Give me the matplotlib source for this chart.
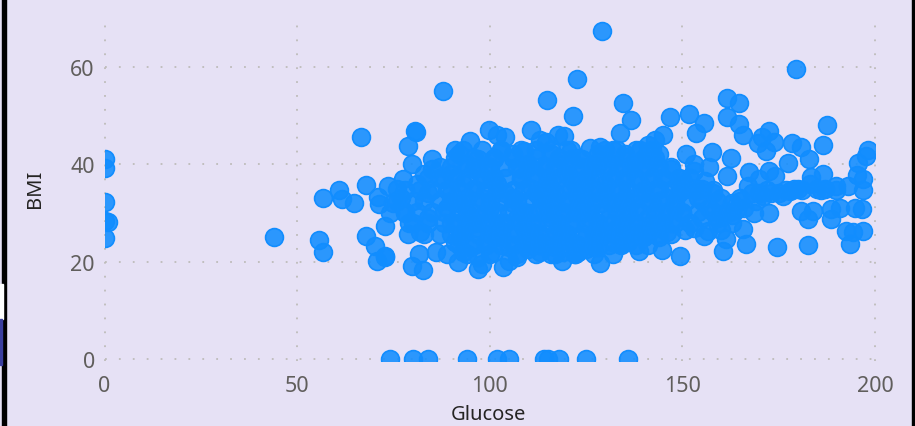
import matplotlib
matplotlib.use("Agg")
import matplotlib.pyplot as plt
from matplotlib.patches import Rectangle

# points on the zero lines
zero_glucose = [74, 80, 84, 94, 102, 105, 114, 115, 118, 125, 136]
zero_bmi = [0, 0, 0, 0, 0, 0, 0, 0, 0, 0, 0]
left_glucose = [0, 0, 0, 0, 1, 0, 44]
left_bmi = [41, 39.2, 32.2, 28.4, 28.2, 24.8, 25]

# left side of the cloud
low_glucose = [66.7, 80.7, 80.9, 78.8, 79.7, 56.8, 60.8, 61.7, 64.8, 67.8, 55.7, 56.8, 67.8, 70.8, 72.8, 72.8, 70.2, 72.8,
               71, 71.2, 73.6, 77.5, 79.7, 82.7, 81.7, 78.7, 75, 76, 74, 77, 79, 78, 81, 83, 84, 82, 85, 86, 87.8, 85, 84, 88]
low_bmi = [45.5, 46.8, 46.5, 43.8, 40.1, 33, 34.6, 32.8, 32.1, 35.7, 24.5, 21.9, 25.2, 20.2, 20.9, 21.2, 23.3, 27.4,
           33.2, 31.8, 35.6, 36.9, 19.1, 18.3, 21.5, 25.6, 32, 35, 30, 33, 28, 30, 36, 38, 34, 26, 41, 22, 55, 39, 29, 37]

# 90-110 block
mid_a_glucose = [91, 95, 92, 94, 97, 99.8, 102, 104, 91.7, 97, 103.4, 105, 98, 90, 93, 96, 99, 101, 103, 106, 108, 109,
                 90, 92, 94, 96, 98, 100, 102, 104, 106, 108, 90, 93, 95, 97, 99, 101, 103, 105, 107, 109,
                 91, 93, 95, 97, 99, 101, 103, 105, 107, 109, 89, 92, 94, 96, 100, 102, 106, 108]
mid_a_bmi = [43, 44.8, 42, 40, 41, 47, 46, 45.5, 19.9, 18.4, 18.9, 20.1, 19.5, 38, 36, 39, 37, 41, 43, 42, 39, 42.7,
             34, 32, 30, 35, 33, 31, 36, 34, 32, 37, 28, 26, 29, 27, 30, 25, 28, 26, 29, 27,
             24, 22, 23, 21, 24, 22, 25, 23, 21, 24, 31, 25, 33, 28, 38, 27, 33, 30]

# 110-130 block
mid_b_glucose = [110.6, 113, 114.8, 114.5, 117.6, 119.3, 122.6, 121.6, 118.7, 128.7, 128.6, 126, 130, 129.2, 112, 116, 120, 124, 128,
                 110, 112, 114, 116, 118, 120, 122, 124, 126, 128, 111, 113, 115, 117, 119, 121, 123, 125, 127, 129,
                 110, 112, 114, 116, 118, 120, 122, 124, 126, 128, 111, 113, 115, 117, 119, 121, 123, 125, 127, 129,
                 110, 113, 116, 119, 122, 125, 128, 112, 115, 118, 121, 124, 127, 130]
mid_b_bmi = [47, 45, 53.1, 44.5, 46, 45.8, 57.4, 49.8, 20.1, 19.8, 43.5, 43.4, 43, 67.3, 43, 42, 43, 41, 42,
             40, 38, 39, 37, 40, 38, 36, 39, 37, 40, 35, 33, 36, 34, 32, 35, 33, 36, 34, 32,
             30, 28, 31, 29, 27, 30, 28, 31, 29, 27, 26, 24, 25, 23, 26, 24, 22, 25, 23, 26,
             22.5, 22, 21.5, 22, 21.5, 22.5, 23, 34, 30, 28, 41, 30, 40, 36]

# 130-150 block
mid_c_glucose = [134.6, 136.6, 133.7, 129.5, 132, 135, 138, 141, 143, 145, 146.7, 144, 140, 137, 149.5, 144.7, 138.7, 133.7,
                 131, 133, 135, 137, 139, 141, 143, 145, 147, 149, 130, 132, 134, 136, 138, 140, 142, 144, 146, 148,
                 131, 133, 135, 137, 139, 141, 143, 145, 147, 149, 130, 132, 134, 136, 138, 140, 142, 144, 146]
mid_c_bmi = [52.5, 49, 46.3, 41, 43, 42, 43, 44, 45, 46, 49.6, 42, 41, 40, 21.2, 22.4, 22.2, 23.6,
             38, 40, 37, 39, 36, 38, 40, 37, 39, 36, 34, 32, 35, 33, 31, 34, 32, 35, 33, 31,
             29, 27, 30, 28, 26, 29, 27, 30, 28, 34, 26, 24, 25, 24, 26, 25, 27, 25, 26]

# right side of the cloud
high_glucose = [179.6, 161.5, 164.6, 161.5, 164.6, 165.7, 187.6, 186.5, 151.6, 155.6, 153.6, 157.6, 162.5, 161.6, 167.2, 172.6,
                172.6, 170.6, 169.6, 171.8, 173.9, 178.4, 180.7, 182.8, 177.4, 198.1, 195.5, 197.7, 195.4, 196.9, 196.8, 193,
                194.7, 196.7, 190.8, 188.6, 188.6, 192.5, 194.4, 196.8, 193.6, 182.6, 174.6, 182.6, 180.9, 183.9, 172.6, 168.6,
                165.7, 166.6, 160.5, 161.4, 155.6, 156.6, 150.6, 186.6, 183.4, 189.9, 151, 153, 155, 158, 160, 163, 165, 168,
                170, 173, 175, 178, 180, 183, 185, 187, 150, 152, 154, 157, 159, 161, 164, 166, 171, 176, 179, 155, 159, 163, 150, 153,
                157, 153, 156, 160, 163, 167, 170, 174]
high_bmi = [59.6, 53.5, 52.5, 49.7, 48.2, 46, 48, 43.9, 50.2, 48.5, 46.3, 42.4, 41.2, 37.6, 38.3, 38.5,
            46.8, 45.5, 44.3, 42.6, 44.6, 44.3, 43.5, 41, 40.2, 43, 40.2, 41.7, 37.8, 36.9, 34.7, 35.6,
            31.1, 30.8, 31, 28.7, 30.7, 26.2, 26, 26.2, 23.6, 23.4, 23.1, 28.7, 30.4, 30.4, 30, 30,
            26.7, 23.6, 22.1, 24.6, 25.2, 26.3, 26.5, 37.9, 37.3, 35.6, 42, 40, 35, 34, 33, 32, 33, 34,
            34, 34, 34, 34.5, 35, 36, 35, 35, 37, 35, 33, 31, 29, 30, 30.5, 31, 33.5, 33.5, 35, 29, 28, 28, 30, 27,
            39.5, 38.5, 36.5, 26.5, 29.5, 35.5, 37, 37.5]

# solid middle of the cloud, one list of glucose values for each BMI level
solid_bmi = [21.6, 23.4, 25.6, 27.9, 30.2, 32.5, 34.8, 37.1, 39.4, 41.2, 43]
solid_glucose = [
    [89, 94, 100, 107, 112, 117, 122, 127, 132],
    [92, 96, 99, 103, 106, 110, 113, 116, 120, 123, 127, 131, 134, 138, 141],
    [83, 87, 90, 93, 97, 100, 103, 107, 110, 113, 117, 120, 124, 127, 130, 134, 137, 141, 144, 147],
    [80, 84, 88, 91, 94, 98, 101, 104, 108, 111, 115, 118, 121, 125, 128, 132, 135, 138, 142, 145, 148, 152],
    [78, 81, 85, 88, 92, 95, 99, 102, 105, 109, 112, 116, 119, 122, 126, 129, 133, 136, 139, 143, 146, 150, 154, 158, 162],
    [76, 80, 83, 87, 90, 93, 97, 100, 103, 107, 110, 114, 117, 120, 124, 127, 131, 134, 137, 141, 144, 148, 151, 155, 159, 165, 169],
    [78, 82, 85, 89, 92, 96, 99, 102, 106, 109, 113, 116, 119, 123, 126, 130, 133, 136, 140, 143, 147, 150, 154, 158, 172, 177, 181, 186, 190],
    [84, 87, 91, 94, 98, 101, 104, 108, 111, 115, 118, 121, 125, 128, 132, 135, 138, 142, 145, 149, 152],
    [87, 90, 94, 97, 100, 104, 107, 110, 114, 117, 120, 124, 127, 131, 134, 137, 141, 144, 147],
    [91, 96, 101, 106, 112, 118, 123, 129, 135, 140, 143],
    [93, 98, 103, 108, 116, 121, 133, 139, 142],
]

glucose_ticks = [0, 50, 100, 150, 200]
bmi_ticks = [0, 20, 40, 60]

W, H = 915, 427
fig = plt.figure(figsize=(W / 100, H / 100), dpi=100, facecolor="#E6E1F5")
ax = fig.add_axes([104.5 / W, 1 - 362 / H, 770.5 / W, 343 / H])
ax.set_facecolor("none")
ax.set_xlim(0, 200)
ax.set_ylim(-0.4, 70)

for v in glucose_ticks:
    ax.axvline(v, color="#BEBCBA", lw=1.3, ls=(0, (1, 6.7)), clip_on=False, zorder=1)
for v in bmi_ticks:
    ax.axhline(v, color="#BEBCBA", lw=1.3, ls=(0, (1, 6.7)), clip_on=False, zorder=1)

groups = [(zero_glucose, zero_bmi), (left_glucose, left_bmi), (low_glucose, low_bmi),
          (mid_a_glucose, mid_a_bmi), (mid_b_glucose, mid_b_bmi), (mid_c_glucose, mid_c_bmi),
          (high_glucose, high_bmi)]
for level, row in zip(solid_bmi, solid_glucose):
    groups.append((row, [level] * len(row)))
for gx, gy in groups:
    ax.scatter(gx, gy, s=165, facecolor=(0.067, 0.553, 1.0, 0.88), edgecolor="#118DFF", linewidth=1.2, zorder=3)

for s in ax.spines.values():
    s.set_visible(False)
ax.set_xticks(glucose_ticks)
ax.set_yticks(bmi_ticks)
ax.tick_params(axis="x", length=0, labelsize=15.5, labelcolor="#605E5C", pad=10)
ax.tick_params(axis="y", length=0, labelsize=15.5, labelcolor="#605E5C", pad=7)
for t in ax.get_xticklabels() + ax.get_yticklabels():
    t.set_family("Noto Sans")

fig.text(488 / W, 1 - 415 / H, "Glucose", ha="center", va="center", fontsize=14.5, family="Noto Sans",
         weight="medium", color="#252423")
fig.text(35 / W, 1 - 189 / H, "BMI", rotation=90, ha="center", va="center", fontsize=14.5, family="Noto Sans",
         weight="medium", color="#252423")

# window edges around the visual
fig.add_artist(Rectangle((2 / W, 0), 4 / W, 1, transform=fig.transFigure, color="black"))
fig.add_artist(Rectangle((912 / W, 0), 3 / W, 1, transform=fig.transFigure, color="black"))
fig.add_artist(Rectangle((0, 1 - 320 / H), 3 / W, 35 / H, transform=fig.transFigure, color="white"))
fig.add_artist(Rectangle((0, 1 - 366 / H), 2 / W, 46 / H, transform=fig.transFigure, color="#3B3F9E"))

fig.savefig("out.png", dpi=100, facecolor=fig.get_facecolor())
